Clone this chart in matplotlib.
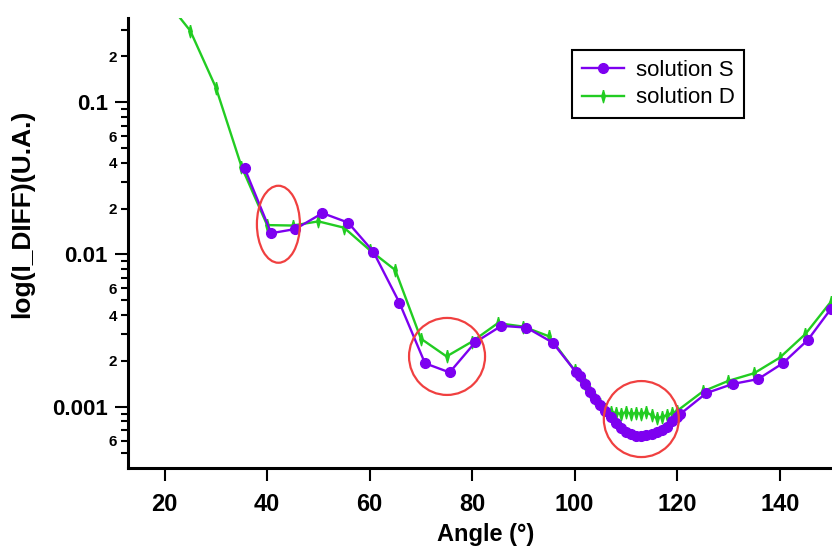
import matplotlib
matplotlib.use('Agg')
import matplotlib.pyplot as plt
from matplotlib.patches import Ellipse
from matplotlib.transforms import ScaledTranslation
from matplotlib.ticker import FixedLocator, FuncFormatter

plt.rcParams['font.family'] = ['Liberation Sans', 'DejaVu Sans']
plt.rcParams['font.weight'] = 'bold'

# solution S (purple)
angle_s = [35.6, 40.8, 45.5, 50.8, 55.8, 60.7, 65.8, 70.8, 75.6, 80.6, 85.7, 90.6, 95.7, 100.3,
           101, 102, 103, 104, 105, 106, 107, 108, 109, 110, 111, 112, 113, 114, 115, 116, 117,
           118, 119, 120, 120.5, 125.7, 130.8, 135.8, 140.6, 145.5, 150]
diff_s = [0.0369, 0.0138, 0.0147, 0.0187, 0.0162, 0.01045, 0.00483, 0.00193, 0.00168, 0.00265,
          0.0034, 0.00331, 0.00264, 0.00168,
          0.0016, 0.0014, 0.00125, 0.00113, 0.00103, 0.00094, 0.00086, 0.00078, 0.00072, 0.00068,
          0.00066, 0.00064, 0.00064, 0.00065, 0.00066, 0.00068, 0.0007, 0.00074, 0.0008, 0.00086,
          0.00089, 0.00123, 0.00141, 0.00152, 0.00193, 0.00275, 0.0044]

# solution D (green)
angle_d = [20, 25, 30, 35, 40, 45, 50, 55, 60, 65, 70, 75, 80, 85, 90, 95, 100,
           101, 102, 103, 104, 105, 106, 107, 108, 109, 110, 111, 112, 113, 114, 115, 116, 117,
           118, 119, 120, 125, 130, 135, 140, 145, 150]
diff_d = [0.48, 0.295, 0.125, 0.0378, 0.0156, 0.0155, 0.0165, 0.0150, 0.0107, 0.0079, 0.0028,
          0.00214, 0.00268, 0.00354, 0.00336, 0.0029, 0.00173,
          0.0016, 0.0014, 0.00125, 0.00113, 0.00104, 0.00097, 0.00093, 0.00091, 0.0009, 0.00092,
          0.0009, 0.00091, 0.0009, 0.00092, 0.00088, 0.00084, 0.00086, 0.00088, 0.00091, 0.00094,
          0.00126, 0.00148, 0.00166, 0.0021, 0.0030, 0.0049]

x_ticks = [20, 40, 60, 80, 100, 120, 140]
y_major = [0.001, 0.01, 0.1]
y_major_labels = ['0.001', '0.01', '0.1']
y_minor = [k * 10.0 ** e for e in (-4, -3, -2, -1) for k in range(2, 10)]
minor_labelled = [2, 4, 6]

# red circles: centre (angle, value), size in inches
circle_centers = [(42.2, 0.0158), (75.1, 0.00214), (113.0, 0.00083)]
circle_sizes = [(0.43, 0.77), (0.76, 0.77), (0.75, 0.76)]

fig = plt.figure(figsize=(8.32, 5.48), dpi=100)
ax = fig.add_axes([0.1538, 0.1454, 0.8462, 0.8212])

thin_diamond = [(0, 1), (0.28, 0), (0, -1), (-0.28, 0), (0, 1)]
l_d, = ax.plot(angle_d, diff_d, color='#22CC22', lw=1.7, marker=thin_diamond, ms=9,
               label='solution D')
l_s, = ax.plot(angle_s, diff_s, color='#7D00F0', lw=1.7, marker='o', ms=7,
               label='solution S')

ax.set_yscale('log')
ax.set_xlim(12.85, 150.2)
ax.set_ylim(3.94e-4, 0.356)

ax.xaxis.set_major_locator(FixedLocator(x_ticks))
ax.yaxis.set_major_locator(FixedLocator(y_major))
ax.set_yticklabels(y_major_labels)
ax.yaxis.set_minor_locator(FixedLocator([v for v in y_minor if v > 4.5e-4]))


def minor_fmt(v, pos):
    k = int(round(v / 10.0 ** int(f'{v:e}'.split('e')[1])))
    return str(k) if k in minor_labelled else ''


ax.yaxis.set_minor_formatter(FuncFormatter(minor_fmt))

for s in ['top', 'right']:
    ax.spines[s].set_visible(False)
for s in ['left', 'bottom']:
    ax.spines[s].set_linewidth(2.2)

ax.tick_params(axis='x', which='major', length=9.5, width=1.5, labelsize=17, pad=8)
ax.tick_params(axis='y', which='major', length=9.5, width=1.5, labelsize=16, pad=5)
ax.tick_params(axis='y', which='minor', length=5, width=1.5, labelsize=11, pad=3)

fig.text(486 / 832, 1 - 535 / 548, 'Angle (°)', ha='center', va='center', fontsize=17)
fig.text(22.5 / 832, 1 - 214 / 548, 'log(I_DIFF)(U.A.)', ha='center', va='center',
         rotation=90, fontsize=19)

leg = ax.legend([l_s, l_d], ['solution S', 'solution D'], loc='upper left',
                bbox_to_anchor=(0.631, 0.93), borderaxespad=0, fancybox=False,
                framealpha=1, edgecolor='black', prop={'weight': 'normal', 'size': 16},
                handlelength=1.9, handletextpad=0.5, labelspacing=0.3, borderpad=0.45)
leg.get_frame().set_linewidth(1.5)

for (cx, cy), (w, h) in zip(circle_centers, circle_sizes):
    trans = fig.dpi_scale_trans + ScaledTranslation(cx, cy, ax.transData)
    fig.add_artist(Ellipse((0, 0), w, h, transform=trans, fill=False,
                           ec='#F04040', lw=1.6))

fig.savefig('out.png', dpi=100)
